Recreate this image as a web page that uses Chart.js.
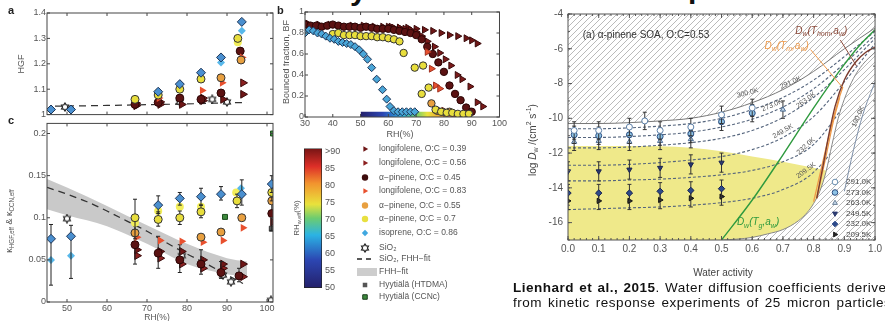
<!DOCTYPE html>
<html>
<head>
<meta charset="utf-8">
<script src="https://cdn.jsdelivr.net/npm/chart.js@4.4.1/dist/chart.umd.min.js"></script>
<style>
  body { margin: 0; width: 885px; height: 321px; overflow: hidden; background: #fff; position: relative; font-family: "Liberation Sans", Arial, sans-serif; }
  canvas, .t { position: absolute; }
  .lt { font-weight: bold; font-size: 11px; color: #222; }
  .cap { left: 513px; top: 281px; font-size: 13.5px; line-height: 14.5px; color: #111; white-space: nowrap; letter-spacing: 0.5px; word-spacing: 1px; }
  .big { font: bold 30px "Liberation Sans", Arial, sans-serif; color: #111; }
</style>
</head>
<body>
<div class="t big" style="left:350px;top:-27px">y</div>
<div class="t big" style="left:688px;top:-29px">p</div>

<canvas id="pa" width="285" height="121" style="left:0;top:0"></canvas>
<canvas id="pc" width="285" height="204" style="left:0;top:117px"></canvas>
<canvas id="pb" width="225" height="140" style="left:283px;top:0"></canvas>
<canvas id="cb" width="225" height="165" style="left:283px;top:140px"></canvas>
<canvas id="pr" width="380" height="282" style="left:505px;top:0"></canvas>

<div class="t lt" style="left:8px;top:4px">a</div>
<div class="t lt" style="left:277px;top:4px">b</div>
<div class="t lt" style="left:8px;top:114px">c</div>

<div class="t cap"><b>Lienhard et al., 2015</b>. Water diffusion coefficients derived<br><span style="word-spacing:1.8px">from kinetic response experiments of 25 micron particles</span></div>

<script>
// ---------- panel a: HGF vs RH ----------
const aIsoRH = [46, 51, 72.8, 78.2, 83.5, 88.5, 93.7];
const aIsoHGF = [1.02, 1.02, 1.09, 1.12, 1.165, 1.225, 1.365];
const aIsoLtRH = [88.5, 93.7];
const aIsoLtHGF = [1.205, 1.33];
const aYelRH = [67, 72.8, 78.2, 83.5, 92.7];
const aYelHGF = [1.06, 1.077, 1.10, 1.14, 1.30];
const aYelLtRH = [72.8, 92.7];
const aYelLtHGF = [1.085, 1.285];
const aOrgRH = [88.5, 93.5];
const aOrgHGF = [1.145, 1.215];
const aRedRH = [73, 83.8, 88.8, 93.8];
const aRedHGF = [1.065, 1.095, 1.125, 1.225];
const aDkRH = [67, 72.8, 78.2, 83.5, 88.5, 93.3];
const aDkHGF = [1.04, 1.048, 1.065, 1.06, 1.085, 1.25];
const aL39RH = [67.3, 73.3, 78.7, 84, 89, 94];
const aL39HGF = [1.035, 1.04, 1.04, 1.055, 1.06, 1.08];
const aL56RH = [67.3, 73.3, 84, 94];
const aL56HGF = [1.045, 1.05, 1.065, 1.125];
const aSiRH = [49.5, 78.2, 86.3, 90];
const aSiHGF = [1.03, 1.05, 1.06, 1.05];
const aFitRH = [47, 60, 70, 80, 90, 95];
const aFitHGF = [1.033, 1.036, 1.039, 1.042, 1.046, 1.048];

// ---------- panel b: bounced fraction vs RH ----------
const bIsoRH = [30, 31.5, 33, 34.5, 36, 37.5, 39, 40.5, 42, 43.5, 45, 46.5, 48, 49.5, 51, 52.5, 54, 55.8, 57.9, 59.4, 60.6, 62, 63.5, 65, 66.5, 68, 69.5];
const bIsoBF = [0.80, 0.83, 0.82, 0.80, 0.79, 0.77, 0.75, 0.74, 0.72, 0.71, 0.70, 0.69, 0.67, 0.64, 0.60, 0.55, 0.47, 0.36, 0.26, 0.17, 0.10, 0.06, 0.05, 0.05, 0.05, 0.05, 0.05];
const bYelRH = [40, 42, 44, 46, 48, 50, 52, 54, 56, 58, 60, 62, 64, 65.5, 69.5, 72, 72.5, 74.5, 77, 79, 81, 83, 85, 87, 89];
const bYelBF = [0.79, 0.80, 0.78, 0.78, 0.78, 0.77, 0.77, 0.77, 0.76, 0.76, 0.75, 0.74, 0.72, 0.61, 0.47, 0.22, 0.49, 0.28, 0.07, 0.05, 0.04, 0.04, 0.03, 0.03, 0.03];
const bOrgRH = [75.5, 77.5, 79.5, 82];
const bOrgBF = [0.13, 0.06, 0.05, 0.05];
const bDkRH = [30, 32, 34, 36, 38, 40, 42, 44, 46, 48, 50, 52, 54, 56, 58, 60, 62, 64, 66, 68, 70, 72, 74, 76, 78, 80, 82, 84, 86, 88, 90];
const bDkBF = [0.88, 0.87, 0.87, 0.86, 0.87, 0.88, 0.87, 0.86, 0.86, 0.86, 0.85, 0.86, 0.85, 0.84, 0.84, 0.84, 0.83, 0.82, 0.81, 0.80, 0.78, 0.74, 0.67, 0.60, 0.52, 0.43, 0.30, 0.22, 0.16, 0.09, 0.05];
const bL39RH = [31, 35, 39, 43, 47, 51, 55, 58, 61, 64, 67, 70, 73, 76, 79, 82, 85, 88, 90, 92];
const bL39BF = [0.89, 0.88, 0.88, 0.87, 0.87, 0.87, 0.86, 0.86, 0.86, 0.85, 0.85, 0.84, 0.83, 0.82, 0.80, 0.78, 0.77, 0.75, 0.73, 0.70];
const bL56RH = [60, 62, 64, 66, 68, 70, 72, 74, 76.6, 78.5, 80.5, 82.5, 84.8, 86.5, 89.4, 92, 94];
const bL56BF = [0.86, 0.85, 0.85, 0.84, 0.83, 0.81, 0.77, 0.72, 0.67, 0.61, 0.55, 0.49, 0.40, 0.36, 0.29, 0.14, 0.10];
const bRedRH = [74, 75.5, 77, 78.5, 80, 82];
const bRedBF = [0.62, 0.46, 0.30, 0.27, 0.06, 0.05];
const bStripRH = [50, 88];
const bStripBF = [0.05, 0.05];

// ---------- panel c: kappa vs RH ----------
const cIsoRH = [46, 51, 72.8, 78.2, 83.5, 88.5, 93.7, 101.2];
const cIsoK = [0.075, 0.078, 0.115, 0.123, 0.125, 0.128, 0.128, 0.140];
const cIsoLo = [0.020, 0.028, 0.105, 0.115, 0.115, 0.121, 0.115, 0.130];
const cIsoHi = [0.092, 0.091, 0.126, 0.130, 0.135, 0.137, 0.145, 0.150];
const cIsoLtRH = [46, 51, 93.5];
const cIsoLtK = [0.050, 0.055, 0.135];
const cYelRH = [67, 72.8, 78.2, 83.5, 92.5, 101.2];
const cYelK = [0.100, 0.098, 0.100, 0.107, 0.120, 0.130];
const cYelLo = [0.075, 0.090, 0.092, 0.100, 0.112, 0.120];
const cYelHi = [0.122, 0.107, 0.108, 0.115, 0.128, 0.138];
const cYelLtRH = [67, 72.8, 78.2, 83.5, 92.3];
const cYelLtK = [0.094, 0.108, 0.113, 0.113, 0.130];
const cOrgRH = [67, 83.5, 88.5, 93.7, 101.2];
const cOrgK = [0.082, 0.077, 0.083, 0.100, 0.120];
const cRedRH = [67.5, 73.3, 78.7, 84, 89, 94];
const cRedK = [0.077, 0.073, 0.072, 0.071, 0.073, 0.088];
const cDkRH = [67, 72.8, 78.2, 83.5, 88.5, 93, 101.2];
const cDkK = [0.068, 0.058, 0.050, 0.045, 0.035, 0.031, 0.105];
const cDkLo = [0.045, 0.040, 0.035, 0.033, 0.028, 0.024, 0.085];
const cDkHi = [0.090, 0.078, 0.068, 0.062, 0.048, 0.040, 0.125];
const cL39RH = [67.5, 73.3, 78.7, 84, 89, 94];
const cL39K = [0.062, 0.060, 0.060, 0.050, 0.045, 0.045];
const cL56RH = [67.5, 73.3, 78.7, 84, 89, 94, 101.5];
const cL56K = [0.055, 0.052, 0.045, 0.040, 0.040, 0.030, 0.095];
const cSiRH = [50, 78.7, 89, 91, 101];
const cSiK = [0.099, 0.055, 0.032, 0.024, 0.002];
const cHtRH = [101.2];
const cHtK = [0.087];
const cCcRH = [89.5, 101.5];
const cCcK = [0.101, 0.200];
const cCcLo = [0.101, 0.085];
const cCcHi = [0.101, 0.200];
const cFitRH = [45, 50, 55, 60, 65, 70, 75, 80, 85, 90, 94];
const cFitK = [0.136, 0.128, 0.119, 0.108, 0.096, 0.084, 0.070, 0.057, 0.045, 0.032, 0.022];
const cBandRH = [45, 50, 60, 70, 80, 90, 95];
const cBandHi = [0.146, 0.136, 0.114, 0.091, 0.069, 0.052, 0.048];
const cBandLo = [0.110, 0.103, 0.090, 0.069, 0.045, 0.033, 0.031];

// ---------- colour bar ----------
const cbRange = [50, 91];
const cbTicks = [50, 55, 60, 65, 70, 75, 80, 85, 90];

// ---------- right panel: log Dw vs water activity ----------
const aw291 = [0.02, 0.1, 0.2, 0.25, 0.3, 0.4, 0.5, 0.6];
const d291 = [-10.7, -10.7, -10.5, -10.15, -10.7, -10.5, -9.8, -9.4];
const aw273 = [0.02, 0.1, 0.2, 0.3, 0.4, 0.5, 0.6];
const d273 = [-10.95, -11.0, -10.95, -11.05, -10.9, -10.2, -9.7];
const aw263 = [0.02, 0.1, 0.2, 0.3, 0.4, 0.7];
const d263 = [-11.35, -11.3, -11.35, -11.3, -11.2, -9.5];
const awDark = [0.0, 0.1, 0.2, 0.3, 0.4, 0.5];
const d2495 = [-13.05, -13.05, -12.95, -12.85, -12.65, -12.55];
const d232 = [-14.3, -14.3, -14.3, -14.2, -14.15, -14.05];
const d2095 = [-14.75, -14.75, -14.75, -14.7, -14.6, -14.5];
const awFit = [0, 0.1, 0.2, 0.3, 0.4, 0.5, 0.6, 0.7, 0.8, 0.9, 1.0];
const fit300 = [-10.3, -10.3, -10.25, -10.15, -10.0, -9.65, -9.1, -8.35, -7.3, -6.0, -4.8];
const fit291 = [-10.6, -10.6, -10.55, -10.45, -10.3, -10.0, -9.5, -8.8, -7.8, -6.45, -5.0];
const fit273 = [-11.1, -11.1, -11.05, -10.95, -10.8, -10.5, -10.05, -9.35, -8.3, -6.85, -5.2];
const fit263 = [-11.7, -11.7, -11.65, -11.55, -11.4, -11.15, -10.7, -9.95, -8.8, -7.2, -5.4];
const fit2495 = [-12.7, -12.7, -12.65, -12.55, -12.4, -12.2, -11.8, -11.1, -9.9, -7.9, -5.7];
const fit232 = [-13.6, -13.6, -13.55, -13.5, -13.4, -13.25, -13.0, -12.5, -11.5, -9.2, -6.2];
const fit2095 = [-15.25, -15.2, -15.15, -15.1, -15.0, -14.85, -14.6, -14.1, -13.1, -10.8, -7.0];
const awYel = [0, 0.2, 0.4, 0.5, 0.6, 0.7, 0.8, 0.86];
const yelTop = [-11.6, -11.6, -11.7, -11.9, -12.2, -12.5, -12.85, -13.1];
const awGlass = [0.5, 0.55, 0.6, 0.65, 0.7, 0.75, 0.78, 0.8, 0.82, 0.84, 0.86, 0.88, 0.9, 0.93, 0.96, 1.0];
const dGlass = [-17, -16.95, -16.85, -16.65, -16.4, -15.9, -15.4, -14.9, -14.2, -13.1, -11.5, -10.0, -8.9, -7.7, -6.9, -6.2];
const awGreen = [0.5, 0.6, 0.7, 0.8, 0.9, 0.95, 1.0];
const dGreen = [-17, -14.7, -12.1, -9.4, -6.9, -5.8, -4.9];
const awBrown = [0.81, 0.83, 0.85, 0.87, 0.9, 0.94, 0.97, 1.0];
const dBrown = [-14.6, -12.8, -10.9, -9.3, -7.8, -6.7, -6.2, -5.9];
const awOrg1 = [0.80, 0.83, 0.86, 0.88, 0.895];
const dOrg1 = [-14.8, -12.5, -10.3, -9.0, -8.2];
const awOrg2 = [0.81, 0.84, 0.865, 0.885];
const dOrg2 = [-14.6, -12.2, -10.1, -8.8];
const aw190 = [0.9, 0.93, 0.96, 1.0];
const d190 = [-14.2, -11.8, -9.8, -7.9];

// ---------- helpers ----------
Chart.defaults.font.family = '"Liberation Sans", Arial, sans-serif';
Chart.defaults.font.size = 9;
Chart.defaults.color = '#555';

const pts = (xs, ys, lo, hi) => xs.map((x, i) => ({ x, y: ys[i], lo: lo ? lo[i] : undefined, hi: hi ? hi[i] : undefined }));
const pm = (xs, ys, e) => xs.map((x, i) => ({ x, y: ys[i], lo: ys[i] - e, hi: ys[i] + e }));
const num = v => String(Number(v.toFixed(3)));

function marks(label, data, style, fill, edge, r, rot, extra) {
  return Object.assign({
    label, data, showLine: false, pointStyle: style, pointRadius: r, pointRotation: rot || 0,
    pointBackgroundColor: fill, pointBorderColor: edge || fill, pointBorderWidth: edge ? 1 : 0,
    backgroundColor: fill, borderColor: edge || fill, order: 1
  }, extra || {});
}
function curve(label, data, color, width, dash, extra) {
  return Object.assign({
    label, data, borderColor: color, borderWidth: width, borderDash: dash || [],
    pointRadius: 0, fill: false, cubicInterpolationMode: 'monotone', order: 2
  }, extra || {});
}

function starImage(size) {
  const c = document.createElement('canvas');
  c.width = c.height = size;
  const g = c.getContext('2d');
  const m = size / 2, r1 = size / 2 - 1, r2 = r1 * 0.6;
  g.beginPath();
  for (let k = 0; k < 12; k++) {
    const a = k * Math.PI / 6, r = k % 2 ? r2 : r1;
    g.lineTo(m + r * Math.sin(a), m - r * Math.cos(a));
  }
  g.closePath();
  g.fillStyle = '#fff'; g.fill();
  g.strokeStyle = '#222'; g.lineWidth = 1.2; g.stroke();
  return c;
}
const star = starImage(10);

function hatchPattern() {
  const c = document.createElement('canvas');
  c.width = c.height = 6;
  const g = c.getContext('2d');
  g.fillStyle = '#fff'; g.fillRect(0, 0, 6, 6);
  g.strokeStyle = '#a8a8a8'; g.lineWidth = 0.8;
  g.beginPath();
  g.moveTo(0, 6); g.lineTo(6, 0);
  g.moveTo(-1, 1); g.lineTo(1, -1);
  g.moveTo(5, 7); g.lineTo(7, 5);
  g.stroke();
  return g.createPattern(c, 'repeat');
}
const hatch = hatchPattern();

const jetStops = [[0, '#24206a'], [0.2, '#2c46b2'], [0.38, '#2bb3e4'], [0.5, '#6ccc70'], [0.6, '#e9e23c'], [0.75, '#f2932e'], [0.87, '#de2f28'], [1, '#761414']];
function jet(ctx, x0, y0, x1, y1) {
  const g = ctx.createLinearGradient(x0, y0, x1, y1);
  jetStops.forEach(s => g.addColorStop(s[0], s[1]));
  return g;
}

// text with sub/superscripts
function rich(ctx, parts, x, y, size, color, rot, align) {
  ctx.save();
  ctx.translate(x, y); ctx.rotate(rot || 0);
  ctx.fillStyle = color; ctx.textBaseline = 'middle';
  const seg = parts.map(p => {
    const s = p[1] ? size * 0.7 : size;
    const f = (p[2] ? 'italic ' : '') + s + 'px "Liberation Sans", Arial, sans-serif';
    ctx.font = f;
    return { t: p[0], f, w: ctx.measureText(p[0]).width, dy: p[1] === 'sub' ? size * 0.3 : p[1] === 'sup' ? -size * 0.35 : 0 };
  });
  const W = seg.reduce((a, b) => a + b.w, 0);
  let cx = align === 'left' ? 0 : -W / 2;
  seg.forEach(s => { ctx.font = s.f; ctx.fillText(s.t, cx, s.dy); cx += s.w; });
  ctx.restore();
}

function framePlugin(len, color, minor) {
  return {
    id: 'frame',
    afterDatasetsDraw(chart) {
      const { ctx, chartArea: a, scales } = chart;
      ctx.save();
      ctx.strokeStyle = color; ctx.lineWidth = 1;
      ctx.strokeRect(a.left, a.top, a.right - a.left, a.bottom - a.top);
      ctx.beginPath();
      const tk = (sc, v, l) => {
        const p = sc.getPixelForValue(v);
        if (sc.isHorizontal()) {
          ctx.moveTo(p, a.bottom); ctx.lineTo(p, a.bottom - l);
          ctx.moveTo(p, a.top); ctx.lineTo(p, a.top + l);
        } else {
          ctx.moveTo(a.left, p); ctx.lineTo(a.left + l, p);
          ctx.moveTo(a.right, p); ctx.lineTo(a.right - l, p);
        }
      };
      ['x', 'y'].forEach(k => scales[k].ticks.forEach(t => tk(scales[k], t.value, len)));
      if (minor) {
        for (let v = scales.x.min; v <= scales.x.max + 1e-9; v += minor[0]) tk(scales.x, v, 2);
        for (let v = Math.ceil(scales.y.min); v <= scales.y.max; v += minor[1]) tk(scales.y, v, 2);
      }
      ctx.stroke();
      ctx.restore();
    }
  };
}

const errorBars = {
  id: 'errorBars',
  beforeDatasetDraw(chart, args) {
    const ds = chart.data.datasets[args.index];
    if (!ds.errColor) return;
    const { ctx, chartArea: a, scales: { x, y } } = chart;
    ctx.save();
    ctx.beginPath(); ctx.rect(a.left, a.top, a.right - a.left, a.bottom - a.top); ctx.clip();
    ctx.strokeStyle = ds.errColor; ctx.lineWidth = 1;
    ctx.beginPath();
    ds.data.forEach(p => {
      if (p.lo === undefined) return;
      const px = x.getPixelForValue(p.x), y1 = y.getPixelForValue(p.lo), y2 = y.getPixelForValue(p.hi);
      ctx.moveTo(px, y1); ctx.lineTo(px, y2);
      ctx.moveTo(px - 2, y1); ctx.lineTo(px + 2, y1);
      ctx.moveTo(px - 2, y2); ctx.lineTo(px + 2, y2);
    });
    ctx.stroke();
    ctx.restore();
  }
};

function linAxis(min, max, step, showLabels, fit, extra) {
  return Object.assign({
    type: 'linear', min, max,
    ticks: { display: showLabels, stepSize: step, includeBounds: false, padding: 1, color: '#555', font: { size: 9 }, callback: num },
    grid: { display: false, drawTicks: false }, border: { display: false },
    afterFit: fit
  }, extra || {});
}
const base = { animation: false, responsive: false, events: [], plugins: { legend: { display: false }, tooltip: { enabled: false } } };

// ---------- panel a ----------
new Chart(document.getElementById('pa'), {
  type: 'line',
  data: { datasets: [
    marks('isoprene', pts(aIsoRH, aIsoHGF), 'rectRot', '#4a8fcf', '#1d3557', 4.5),
    marks('isoprene lt', pts(aIsoLtRH, aIsoLtHGF), 'rectRot', '#58b8ea', null, 4),
    marks('a-pinene 0.7', pts(aYelRH, aYelHGF), 'circle', '#e8de3c', '#333', 4),
    marks('a-pinene 0.7 lt', pts(aYelLtRH, aYelLtHGF), 'circle', '#f2ee5a', null, 4),
    marks('a-pinene 0.55', pts(aOrgRH, aOrgHGF), 'circle', '#e8a040', '#333', 4),
    marks('longifolene 0.83', pts(aRedRH, aRedHGF), 'triangle', '#e8502e', null, 4.5, 90),
    marks('a-pinene 0.45', pts(aDkRH, aDkHGF), 'circle', '#5b1212', '#2a0505', 4),
    marks('longifolene 0.39', pts(aL39RH, aL39HGF), 'triangle', '#6e1616', '#3a0a0a', 4.5, 90),
    marks('longifolene 0.56', pts(aL56RH, aL56HGF), 'triangle', '#8c2020', '#3a0a0a', 4.5, 90),
    marks('SiO2', pts(aSiRH, aSiHGF), star, '#fff', '#222', 4),
    curve('SiO2 FHH-fit', pts(aFitRH, aFitHGF), '#333', 1.2, [7, 5], { order: 5 })
  ] },
  options: Object.assign({}, base, {
    layout: { padding: { top: 13, right: 12, bottom: 4, left: 0 } },
    scales: {
      x: linAxis(45, 101.5, 10, false, s => { s.height = 0; }),
      y: linAxis(1, 1.4, 0.1, true, s => { s.width = 47; })
    }
  }),
  plugins: [framePlugin(3, '#444'), errorBars, {
    id: 'titles',
    afterDraw(chart) { rich(chart.ctx, [['HGF']], 22, 64, 9, '#555', -Math.PI / 2); }
  }]
});

// ---------- panel b ----------
new Chart(document.getElementById('pb'), {
  type: 'line',
  data: { datasets: [
    marks('isoprene', pts(bIsoRH, bIsoBF), 'rectRot', '#4aa6d8', '#1d3557', 4),
    marks('a-pinene 0.7', pts(bYelRH, bYelBF), 'circle', '#e8de3c', '#333', 3.7),
    marks('a-pinene 0.55', pts(bOrgRH, bOrgBF), 'circle', '#e8a040', '#333', 3.7),
    marks('longifolene 0.83', pts(bRedRH, bRedBF), 'triangle', '#e8502e', '#a03020', 4, 90),
    marks('a-pinene 0.45', pts(bDkRH, bDkBF), 'circle', '#5b1212', '#2a0505', 3.7),
    marks('longifolene 0.56', pts(bL56RH, bL56BF), 'triangle', '#7a1a1a', '#3a0a0a', 4, 90),
    marks('longifolene 0.39', pts(bL39RH, bL39BF), 'triangle', '#6e1616', '#3a0a0a', 4, 90),
    curve('RH strip', pts(bStripRH, bStripBF), 'rgba(0,0,0,0)', 0, [], {
      fill: 'origin', order: 9, cubicInterpolationMode: 'default', tension: 0,
      backgroundColor: c => {
        const ch = c.chart, sx = ch.scales.x;
        if (!ch.chartArea || !sx) return '#2c46b2';
        return jet(ch.ctx, sx.getPixelForValue(50), 0, sx.getPixelForValue(90), 0);
      }
    })
  ] },
  options: Object.assign({}, base, {
    layout: { padding: { top: 12, right: 5, bottom: 0, left: 0 } },
    scales: {
      x: linAxis(30, 100, 10, true, s => { s.height = 23; }),
      y: linAxis(0, 1, 0.2, true, s => { s.width = 22; })
    }
  }),
  plugins: [framePlugin(3, '#444'), {
    id: 'titles',
    afterDraw(chart) {
      rich(chart.ctx, [['Bounced fraction, BF']], 4, 62, 9, '#555', -Math.PI / 2);
      rich(chart.ctx, [['RH(%)']], 117, 135, 9, '#555');
    }
  }]
});

// ---------- panel c ----------
new Chart(document.getElementById('pc'), {
  type: 'line',
  data: { datasets: [
    marks('isoprene', pts(cIsoRH, cIsoK, cIsoLo, cIsoHi), 'rectRot', '#4a8fcf', '#1d3557', 4.5, 0, { errColor: '#222' }),
    marks('isoprene lt', pts(cIsoLtRH, cIsoLtK), 'rectRot', '#58b8ea', null, 4),
    marks('a-pinene 0.7', pts(cYelRH, cYelK, cYelLo, cYelHi), 'circle', '#e8de3c', '#333', 4, 0, { errColor: '#222' }),
    marks('a-pinene 0.7 lt', pts(cYelLtRH, cYelLtK), 'circle', '#f2ee5a', null, 4),
    marks('a-pinene 0.55', pts(cOrgRH, cOrgK), 'circle', '#e8a040', '#333', 4),
    marks('longifolene 0.83', pts(cRedRH, cRedK), 'triangle', '#e8502e', null, 4.5, 90),
    marks('a-pinene 0.45', pts(cDkRH, cDkK, cDkLo, cDkHi), 'circle', '#5b1212', '#2a0505', 4, 0, { errColor: '#222' }),
    marks('longifolene 0.39', pts(cL39RH, cL39K), 'triangle', '#6e1616', '#3a0a0a', 4.5, 90),
    marks('longifolene 0.56', pts(cL56RH, cL56K), 'triangle', '#8c2020', '#3a0a0a', 4.5, 90),
    marks('SiO2', pts(cSiRH, cSiK), star, '#fff', '#222', 4),
    marks('Hyytiala HTDMA', pts(cHtRH, cHtK), 'rect', '#5a5a5a', '#333', 3.5),
    marks('Hyytiala CCNc', pts(cCcRH, cCcK, cCcLo, cCcHi), 'rect', '#3d8a3d', '#1b4d1e', 3.5, 0, { errColor: '#333' }),
    curve('SiO2 FHH-fit', pts(cFitRH, cFitK), '#333', 1.3, [7, 5], { order: 5 }),
    curve('band hi', pts(cBandRH, cBandHi), 'rgba(0,0,0,0)', 0, [], { order: 20 }),
    curve('FHH-fit', pts(cBandRH, cBandLo), 'rgba(0,0,0,0)', 0, [], { order: 19, fill: '-1', backgroundColor: '#c9c9c9' })
  ] },
  options: Object.assign({}, base, {
    layout: { padding: { top: 1, right: 12, bottom: 0, left: 0 } },
    scales: {
      x: linAxis(45, 101.5, 10, true, s => { s.height = 19; }),
      y: linAxis(0, 0.212, 0.05, true, s => { s.width = 47; })
    }
  }),
  plugins: [framePlugin(3, '#444'), errorBars, {
    id: 'titles',
    afterDraw(chart) {
      rich(chart.ctx, [['κ'], ['HGF,eff', 'sub'], [' & κ'], ['CCN,eff', 'sub']], 10, 104, 9, '#555', -Math.PI / 2);
      rich(chart.ctx, [['RH(%)']], 157, 201, 8.5, '#555');
    }
  }]
});

// ---------- colour bar + legend ----------
const legendItems = [
  ['longifolene, O:C = 0.39', 'triangle', '#6e1616', null, 90],
  ['longifolene, O:C = 0.56', 'triangle', '#8c2020', null, 90],
  ['α−pinene, O:C = 0.45', 'circle', '#3d0c0c', null, 0],
  ['longifolene, O:C = 0.83', 'triangle', '#e8502e', null, 90],
  ['α−pinene, O:C = 0.55', 'circle', '#e8a040', null, 0],
  ['α−pinene, O:C = 0.7', 'circle', '#e8e040', null, 0],
  ['isoprene, O:C = 0.86', 'rectRot', '#40a8e0', null, 0],
  ['SiO₂', star, '#fff', null, 0],
  ['SiO₂, FHH−fit', 'dash', '#222', null, 0],
  ['FHH−fit', 'box', '#cdcdcd', null, 0],
  ['Hyytiälä (HTDMA)', 'rect', '#555', null, 0],
  ['Hyytiälä (CCNc)', 'rect', '#3d8a3d', '#1b3d1e', 0]
];
const legendRows = [9, 23, 37.5, 51, 65.5, 79, 93, 108, 119, 132, 145, 157];

new Chart(document.getElementById('cb'), {
  type: 'bar',
  data: { labels: [''], datasets: [{
    data: [cbRange], barPercentage: 1, categoryPercentage: 1, borderWidth: 1, borderColor: '#222', borderSkipped: false,
    backgroundColor: c => {
      const a = c.chart.chartArea;
      if (!a) return '#2c46b2';
      return jet(c.chart.ctx, 0, a.bottom, 0, a.top);
    }
  }] },
  options: Object.assign({}, base, {
    layout: { padding: { top: 7, right: 162, bottom: 17, left: 21 } },
    scales: {
      x: { display: false },
      y: {
        position: 'right', min: cbRange[0], max: cbRange[1],
        afterBuildTicks: s => { s.ticks = cbTicks.map(v => ({ value: v })); },
        ticks: { padding: 3, color: '#555', font: { size: 9 }, callback: v => v === 90 ? '>90' : v },
        grid: { display: false, drawTicks: false }, border: { display: false },
        afterFit: s => { s.width = 24; }
      }
    }
  }),
  plugins: [{
    id: 'legendAndTitle',
    afterDraw(chart) {
      const ctx = chart.ctx;
      rich(ctx, [['RH'], ['w,eff', 'sub'], ['(%)']], 14, 78, 8, '#555', -Math.PI / 2);
      legendItems.forEach((it, i) => {
        const y = legendRows[i], x = 82;
        ctx.save();
        if (it[1] === 'dash') {
          ctx.strokeStyle = it[2]; ctx.lineWidth = 1.3; ctx.setLineDash([5, 4]);
          ctx.beginPath(); ctx.moveTo(x - 8, y); ctx.lineTo(x + 10, y); ctx.stroke();
        } else if (it[1] === 'box') {
          ctx.fillStyle = it[2]; ctx.fillRect(x - 8, y - 4, 20, 8);
        } else {
          ctx.fillStyle = it[2]; ctx.strokeStyle = it[3] || '#222';
          Chart.helpers.drawPoint(ctx, { pointStyle: it[1], radius: 3.2, rotation: it[4], borderWidth: it[3] ? 1 : 0 }, x, y);
        }
        ctx.restore();
        rich(ctx, [[it[0]]], 96, y, 8.5, '#555', 0, 'left');
      });
    }
  }]
});

// ---------- right panel ----------
const rLegend = [
  ['291.0K', 'circle', '#fff', '#6a8fb0', 0],
  ['273.0K', 'circle', '#8ec3e6', '#2b4c7e', 0],
  ['263.0K', 'triangle', '#c5d9ec', '#6a7f95', 0],
  ['249.5K', 'triangle', '#2b3a70', '#2b3a70', 180],
  ['232.0K', 'rectRot', '#2d4a8a', '#2d4a8a', 0],
  ['209.5K', 'triangle', '#222', '#222', 90]
];
const rLegendRows = [182, 192.5, 203, 213.5, 224, 234.5];
const tempLabels = [
  ['300.0K', 0.585, -8.55, -15],
  ['291.0K', 0.725, -7.95, -24],
  ['273.0K', 0.665, -9.25, -24],
  ['263.0K', 0.775, -8.95, -36],
  ['249.5K', 0.70, -10.75, -30],
  ['232.0K', 0.775, -11.6, -42],
  ['209.5K', 0.775, -13.0, -36],
  ['190.0K', 0.945, -9.9, -66]
];

new Chart(document.getElementById('pr'), {
  type: 'line',
  data: { datasets: [
    marks('291.0K', pm(aw291, d291, 0.5), 'circle', '#fff', '#5b7fa8', 3, 0, { errColor: '#333', order: 1 }),
    marks('273.0K', pm(aw273, d273, 0.5), 'circle', '#8ec3e6', '#2b4c7e', 3, 0, { errColor: '#333', order: 1 }),
    marks('263.0K', pm(aw263, d263, 0.5), 'triangle', '#c5d9ec', '#4a6a90', 3, 0, { errColor: '#333', order: 1 }),
    marks('249.5K', pm(awDark, d2495, 0.55), 'triangle', '#2b3a70', '#1a2350', 3, 180, { errColor: '#333', order: 1 }),
    marks('232.0K', pm(awDark, d232, 0.5), 'rectRot', '#2d4a8a', '#1a2350', 3.2, 0, { errColor: '#333', order: 1 }),
    marks('209.5K', pm(awDark, d2095, 0.5), 'triangle', '#2a2a2a', '#111', 3, 90, { errColor: '#333', order: 1 }),
    curve('Dw(Tg,aw)', pts(awGreen, dGreen), '#2e9a3e', 1.4),
    curve('Dw(Thom,aw)', pts(awBrown, dBrown), '#7a3b2e', 1.4),
    curve('Dw(Tm,aw) a', pts(awOrg1, dOrg1), '#ef9a4a', 1.3),
    curve('Dw(Tm,aw) b', pts(awOrg2, dOrg2), '#ef9a4a', 1.3),
    curve('190.0K', pts(aw190, d190), '#7d8fa8', 1),
    curve('300.0K', pts(awFit, fit300), '#777', 1, [], { fill: 'end', backgroundColor: hatch, order: 10 }),
    curve('glass boundary', pts(awGlass, dGlass), '#888', 1, [], { fill: 'start', backgroundColor: hatch, order: 10 }),
    curve('291.0K fit', pts(awFit, fit291), '#55657d', 1.1, [3, 2], { order: 15 }),
    curve('273.0K fit', pts(awFit, fit273), '#55657d', 1.1, [3, 2], { order: 15 }),
    curve('263.0K fit', pts(awFit, fit263), '#55657d', 1.1, [3, 2], { order: 15 }),
    curve('249.5K fit', pts(awFit, fit2495), '#55657d', 1.1, [3, 2], { order: 15 }),
    curve('232.0K fit', pts(awFit, fit232), '#55657d', 1.1, [3, 2], { order: 15 }),
    curve('209.5K fit', pts(awFit, fit2095), '#55657d', 1.1, [3, 2], { order: 15 }),
    curve('yellow', pts(awYel, yelTop), 'rgba(0,0,0,0)', 0, [], { fill: 'start', backgroundColor: '#efe98a', order: 20 })
  ] },
  options: Object.assign({}, base, {
    layout: { padding: { top: 14, right: 7, bottom: 0, left: 0 } },
    scales: {
      x: Object.assign(linAxis(0, 1, 0.1, true, s => { s.height = 42; }), {
        ticks: { stepSize: 0.1, padding: 3, color: '#555', font: { size: 10 }, callback: v => v.toFixed(1) }
      }),
      y: Object.assign(linAxis(-17, -4, 2, true, s => { s.width = 63; }), {
        ticks: { stepSize: 2, includeBounds: false, padding: 5, color: '#555', font: { size: 10 } }
      })
    }
  }),
  plugins: [framePlugin(4, '#555', [0.02, 1]), errorBars, {
    id: 'annotations',
    afterDraw(chart) {
      const { ctx, scales: { x, y } } = chart;
      const X = v => x.getPixelForValue(v), Y = v => y.getPixelForValue(v);
      rich(ctx, [['log '], ['D', '', 1], ['w', 'sub'], [' /(cm'], ['2', 'sup'], [' s'], ['-1', 'sup'], [')']], 28, 140, 10, '#444', -Math.PI / 2);
      rich(ctx, [['Water activity']], 218, 273, 10, '#444');
      rich(ctx, [['(a) α-pinene SOA, O:C=0.53']], X(0.048), Y(-5.2), 10, '#333', 0, 'left');
      tempLabels.forEach(t => rich(ctx, [[t[0]]], X(t[1]), Y(t[2]), 7, '#555', t[3] * Math.PI / 180));
      rich(ctx, [['D', '', 1], ['w', 'sub', 1], ['(T', '', 1], ['hom', 'sub', 1], [',a', '', 1], ['w', 'sub', 1], [')', '', 1]], X(0.74), Y(-5.0), 10, '#8b4a3a', 0, 'left');
      rich(ctx, [['D', '', 1], ['w', 'sub', 1], ['(T', '', 1], ['m', 'sub', 1], [',a', '', 1], ['w', 'sub', 1], [')', '', 1]], X(0.64), Y(-5.85), 10, '#ef9a4a', 0, 'left');
      rich(ctx, [['D', '', 1], ['w', 'sub', 1], ['(T', '', 1], ['g', 'sub', 1], [',a', '', 1], ['w', 'sub', 1], [')', '', 1]], X(0.55), Y(-16.0), 10, '#2e9a3e', 0, 'left');
      ctx.save();
      ctx.lineWidth = 1;
      ctx.strokeStyle = '#8b4a3a';
      ctx.beginPath(); ctx.moveTo(X(0.887), Y(-5.5)); ctx.lineTo(X(0.94), Y(-7.0)); ctx.stroke();
      ctx.strokeStyle = '#ef9a4a';
      ctx.beginPath(); ctx.moveTo(X(0.79), Y(-6.05)); ctx.lineTo(X(0.893), Y(-8.2)); ctx.stroke();
      ctx.restore();
      rLegend.forEach((it, i) => {
        const yy = rLegendRows[i], xx = 330;
        ctx.save();
        ctx.fillStyle = it[2]; ctx.strokeStyle = it[3];
        Chart.helpers.drawPoint(ctx, { pointStyle: it[1], radius: 2.8, rotation: it[4], borderWidth: 1 }, xx, yy);
        ctx.restore();
        rich(ctx, [[it[0]]], 341, yy, 8, '#444', 0, 'left');
      });
    }
  }]
});
</script>
</body>
</html>
